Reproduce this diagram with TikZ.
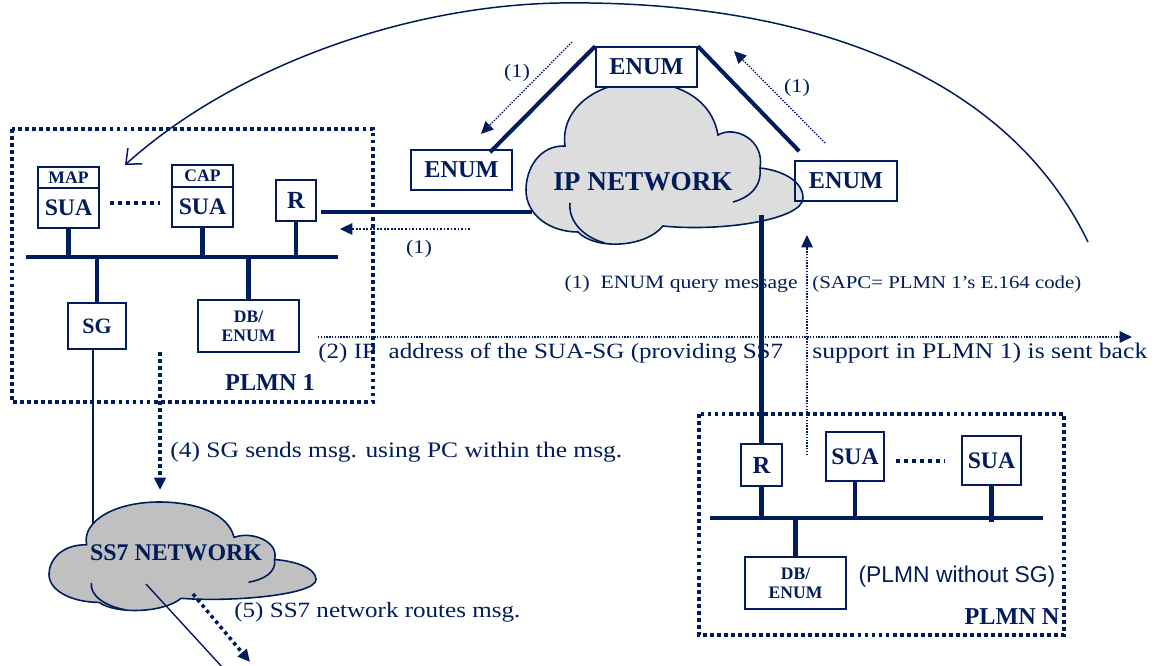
\documentclass[tikz,border=0pt]{standalone}
\usepackage{fontspec}
\setmainfont{Liberation Serif}
\newfontfamily\wideserif[FakeStretch=1.15]{Liberation Serif}
\newfontfamily\arialfont{Liberation Sans}
\usetikzlibrary{arrows.meta}
\definecolor{navy}{RGB}{0,28,90}
\definecolor{ipgray}{RGB}{221,221,221}
\definecolor{ssgray}{RGB}{192,192,192}
\newcommand{\fsz}[1]{\fontsize{#1}{#1}\selectfont}
\begin{document}
\begin{tikzpicture}[x=0.02cm,y=-0.02cm,
  bx/.style 2 args={draw=navy, line width=0.9pt, inner sep=0pt, text=navy,
    minimum width=#1*0.02cm, minimum height=#2*0.02cm, align=center},
  lbl/.style={inner sep=0pt, text=navy},
  wire/.style={draw=navy, line width=2.3pt},
  frame/.style={draw=navy, line width=2pt, dash pattern=on 2.2pt off 1.8pt},
  bigdots/.style={draw=navy, line width=2pt, dash pattern=on 2.2pt off 2.4pt},
  finedot/.style={draw=navy, line width=0.8pt, dash pattern=on 0.8pt off 0.8pt},
  middot/.style={draw=navy, line width=1.1pt, dash pattern=on 1pt off 1pt},
  thickdot/.style={draw=navy, line width=2pt, dash pattern=on 2pt off 2pt},
  arrowhd/.style={-{Triangle[length=7pt,width=6.5pt]}},
  cloudline/.style={draw=navy, line width=0.9pt},
]
\useasboundingbox (0,0) rectangle (1154,666);

% ---------- free coordinates ----------
\coordinate (b1L) at (26,257);
\coordinate (b1R) at (338,257);
\coordinate (bNL) at (710,518);
\coordinate (bNR) at (1043,518);
\coordinate (ipW) at (532,212);
\coordinate (ipS) at (758,215);
\coordinate (ssT) at (93,530);

% ---------- long arc ----------
\coordinate (arcS) at (1088,242);
\coordinate (arcT) at (559,3);
\coordinate (arcE) at (125,165);
\draw[navy, line width=0.85pt, -{Straight Barb[length=7pt,width=12pt]}]
  (arcS) .. controls (1000,60) and (780,0) .. (arcT)
  .. controls (400,6) and (230,70) .. (arcE);

% ---------- connections drawn under clouds ----------
\coordinate (rA) at (321,212);
\draw[wire] (rA) -- (ipW);
\coordinate (sgB) at (93,349);
\draw[navy, line width=0.7pt] (sgB) -- (ssT);

% ---------- IP cloud ----------
\filldraw[cloudline, fill=ipgray]
  (565,146) .. controls (540,145) and (526,168) .. (526,190)
  .. controls (526,215) and (550,232) .. (578,232)
  .. controls (595,250) and (645,248) .. (663,226)
  .. controls (720,232) and (803,220) .. (803,198)
  .. controls (803,180) and (780,170) .. (760,168)
  .. controls (765,140) and (735,125) .. (718,135)
  .. controls (712,100) and (680,82) .. (640,82)
  .. controls (595,82) and (560,110) .. (565,146) -- cycle;
\draw[cloudline] (760,168) .. controls (762,188) and (748,198) .. (733,202);
\draw[cloudline] (570,203) .. controls (568,222) and (585,238) .. (605,243);
\node[lbl, font=\bfseries\fsz{15.5}] (ipn) at (643,182) {IP NETWORK};

% ---------- SS7 cloud ----------
\begin{scope}[shift={(49,502)}, xscale=0.964, yscale=0.669, shift={(-526,-82)}]
\filldraw[cloudline, fill=ssgray]
  (565,146) .. controls (540,145) and (526,168) .. (526,190)
  .. controls (526,215) and (550,232) .. (578,232)
  .. controls (595,250) and (645,248) .. (663,226)
  .. controls (720,232) and (803,220) .. (803,198)
  .. controls (803,180) and (780,170) .. (760,168)
  .. controls (765,140) and (735,125) .. (718,135)
  .. controls (712,100) and (680,82) .. (640,82)
  .. controls (595,82) and (560,110) .. (565,146) -- cycle;
\draw[cloudline] (760,168) .. controls (762,188) and (748,198) .. (733,202);
\draw[cloudline] (570,203) .. controls (568,222) and (585,238) .. (605,243);
\end{scope}
\node[lbl, font=\bfseries\fsz{13.6}] (ssn) at (176,553) {SS7 NETWORK};

% ---------- ENUM boxes ----------
\node[bx={101}{40}, fill=white, font=\bfseries\fsz{13.8}] (enumT) at (646.5,67) {ENUM};
\node[bx={101}{40}, font=\bfseries\fsz{13.8}] (enumL) at (461.5,170) {ENUM};
\node[bx={102}{40}, font=\bfseries\fsz{13.8}] (enumR) at (846,181) {ENUM};
\draw[wire] (enumT.north west) -- ([xshift=0.57cm,yshift=-0.06cm]enumL.north);
\draw[wire] (enumT.north east) -- ([xshift=0.1cm,yshift=0.18cm]enumR.north west);

% dotted (1) arrows around ENUM
\coordinate (d1s) at (572,42);
\coordinate (d1e) at (481,134);
\draw[finedot, arrowhd] (d1s) -- (d1e);
\coordinate (d2s) at (825,143);
\coordinate (d2e) at (734,51);
\draw[finedot, arrowhd] (d2s) -- (d2e);
\node[lbl, font=\wideserif\fsz{11}] (l1a) at (517,73) {(1)};
\node[lbl, font=\wideserif\fsz{11}] (l1b) at (797,88) {(1)};

% ---------- PLMN 1 ----------
\draw[frame] (12,129) rectangle (373,402);
\node[bx={61}{21}, font=\bfseries\fsz{10}] (map) at (68.5,177.5) {MAP};
\node[bx={61}{40}, font=\bfseries\fsz{13.5}] (sua1) at (68.5,208) {SUA};
\node[bx={61}{22}, font=\bfseries\fsz{10}] (cap) at (202.5,176) {CAP};
\node[bx={61}{40}, font=\bfseries\fsz{13.5}] (sua2) at (202.5,207) {SUA};
\node[bx={40}{41}, font=\bfseries\fsz{14}] (r1) at (296,200.5) {R};
\node[bx={58}{46}, font=\bfseries\fsz{12.5}] (sg) at (97,326) {SG};
\node[bx={101}{52}, font=\bfseries\fontsize{10}{11}\selectfont] (db1) at (248.5,326) {DB/\\ENUM};
\draw[bigdots] (110,203) -- (160,203);
\draw[wire] (b1L) -- (b1R);
\draw[wire] (sua1.south) -- (sua1.south |- b1L);
\draw[wire] (sua2.south) -- (sua2.south |- b1L);
\draw[wire] (r1.south) -- (r1.south |- b1L);
\draw[wire] (sg.north) -- (sg.north |- b1L);
\draw[wire] (db1.north) -- (db1.north |- b1L);
\node[lbl, font=\bfseries\fsz{13.8}] (p1) at (270,382) {PLMN 1};

% dotted arrow toward R
\coordinate (rqs) at (470,229);
\coordinate (rqe) at (340,229);
\draw[middot, arrowhd] (rqs) -- (rqe);
\node[lbl, font=\wideserif\fsz{11}] (l1c) at (419,249) {(1)};

% ---------- PLMN N ----------
\draw[frame] (699,414) rectangle (1064,635);
\node[bx={41}{42}, font=\bfseries\fsz{14}] (rN) at (761.5,465) {R};
\node[bx={58}{49}, font=\bfseries\fsz{13.5}] (suaN1) at (855,456.5) {SUA};
\node[bx={59}{49}, font=\bfseries\fsz{13.5}] (suaN2) at (991.5,460.5) {SUA};
\node[bx={101}{52}, font=\bfseries\fontsize{10}{11}\selectfont] (dbN) at (795.5,583) {DB/\\ENUM};
\draw[bigdots] (896,461) -- (945,461);
\draw[wire] (bNL) -- (bNR);
\draw[wire] (rN.south) -- (rN.south |- bNL);
\draw[wire] (suaN1.south) -- (suaN1.south |- bNL);
\draw[wire] (suaN2.south) -- ([yshift=-0.08cm]suaN2.south |- bNL);
\draw[wire] (dbN.north) -- (dbN.north |- bNL);
\node[lbl, font=\arialfont\fsz{13}] (wosg) at (957,577) {(PLMN without SG)};
\node[lbl, font=\bfseries\fsz{13.8}] (pN) at (1012,617) {PLMN N};

% ---------- messages ----------
\coordinate (ups) at (807,455);
\coordinate (upe) at (807,235);
\draw[finedot, arrowhd] (ups) -- (upe);
\node[lbl, font=\wideserif\fsz{10.7}, anchor=east] (t1a) at (798,284) {(1)\ \ ENUM query message};
\node[lbl, font=\wideserif\fsz{10.3}, anchor=west] (t1b) at (812,284) {(SAPC= PLMN 1’s E.164 code)};

\coordinate (ras) at (318,337);
\coordinate (rae) at (1132,337);
\draw[finedot, arrowhd] (ras) -- (rae);
\node[lbl, font=\wideserif\fsz{12.4}, anchor=west] (t2a) at (318,353) {(2) IP\ \ address of the SUA-SG (providing SS7};
\node[lbl, font=\wideserif\fsz{12.7}, anchor=west] (t2b) at (812,353) {support in PLMN 1) is sent back};

\coordinate (s4s) at (160,352);
\coordinate (s4e) at (160,490);
\draw[thickdot, arrowhd] (s4s) -- (s4e);
\node[lbl, font=\wideserif\fsz{12.6}, anchor=west] (t4) at (170,452) {(4) SG sends msg. using PC within the msg.};

\coordinate (s5s) at (193,594);
\coordinate (s5e) at (250,662);
\draw[thickdot, arrowhd] (s5s) -- (s5e);
\coordinate (sxs) at (146,584);
\coordinate (sxe) at (223,668);
\draw[navy, line width=0.8pt] (sxs) -- (sxe);
\node[lbl, font=\wideserif\fsz{12.4}, anchor=west] (t5) at (234,612) {(5) SS7 network routes msg.};

% vertical line from IP cloud to R of PLMN N (over the text)
\draw[wire] (rN.north) -- (rN.north |- ipS);
\end{tikzpicture}
\end{document}
